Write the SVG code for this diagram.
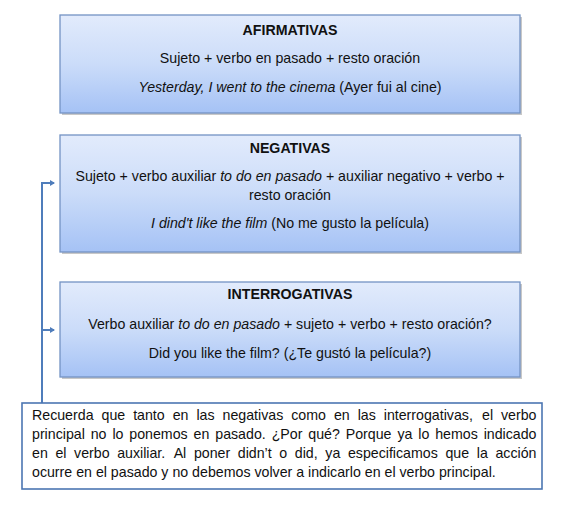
<svg xmlns="http://www.w3.org/2000/svg" width="561" height="508" viewBox="0 0 561 508">
<style>
text { font-family: "Liberation Sans", Arial, sans-serif; font-size: 14.2px; fill: #111; }
.c { text-anchor: middle; }
.t { font-weight: bold; }
.i { font-style: italic; }
.box { fill: url(#g); stroke: #7393c4; stroke-width: 1.3; }
.shadow { fill: #c8c8c8; }
.note { fill: #fff; stroke: #4c76b2; stroke-width: 1.6; }
.conn { fill: none; stroke: #4f7dbb; stroke-width: 2; }
</style>
<defs>
<linearGradient id="g" x1="0" y1="0" x2="0" y2="1">
<stop offset="0" stop-color="#e2ebfc"/>
<stop offset="0.5" stop-color="#cbdcf9"/>
<stop offset="1" stop-color="#a5c2f5"/>
</linearGradient>
<marker id="arr" markerWidth="6" markerHeight="6" refX="4" refY="3" orient="auto" markerUnits="userSpaceOnUse">
<path d="M0,0 L5,3 L0,6 Z" fill="#4f7dbb"/>
</marker>
</defs>
<g id="connectors">
<path class="conn" d="M42,403 V183 H54" marker-end="url(#arr)"/>
<path class="conn" d="M42,330 H54" marker-end="url(#arr)"/>
</g>
<g id="afirmativas">
<rect class="shadow" x="62" y="17" width="460" height="98"/>
<rect class="box" x="60" y="15" width="460" height="98"/>
<text class="c t" x="290" y="35">AFIRMATIVAS</text>
<text class="c" x="290" y="63">Sujeto + verbo en pasado + resto oración</text>
<text class="c" x="290" y="92"><tspan class="i">Yesterday, I went to the cinema</tspan> (Ayer fui al cine)</text>
</g>
<g id="negativas">
<rect class="shadow" x="62" y="137" width="460" height="117"/>
<rect class="box" x="60" y="135" width="460" height="117"/>
<text class="c t" x="290" y="153">NEGATIVAS</text>
<text class="c" x="290" y="181">Sujeto + verbo auxiliar <tspan class="i">to do en pasado</tspan> + auxiliar negativo + verbo +</text>
<text class="c" x="290" y="200">resto oración</text>
<text class="c" x="290" y="228"><tspan class="i">I dind't like the film</tspan> (No me gusto la película)</text>
</g>
<g id="interrogativas">
<rect class="shadow" x="62" y="284" width="460" height="95"/>
<rect class="box" x="60" y="282" width="460" height="95"/>
<text class="c t" x="290" y="299">INTERROGATIVAS</text>
<text class="c" x="290" y="329">Verbo auxiliar <tspan class="i">to do en pasado</tspan> + sujeto + verbo + resto oración?</text>
<text class="c" x="290" y="358">Did you like the film? (¿Te gustó la película?)</text>
</g>
<g id="nota">
<rect class="note" x="22" y="403" width="520" height="86"/>
<text y="420"><tspan x="32">Recuerda</tspan><tspan x="101.51">que</tspan><tspan x="133.15">tanto</tspan><tspan x="172.68">en</tspan><tspan x="196.42">las</tspan><tspan x="222.52">negativas</tspan><tspan x="291.25">como</tspan><tspan x="333.92">en</tspan><tspan x="357.66">las</tspan><tspan x="383.76">interrogativas,</tspan><tspan x="482.02">el</tspan><tspan x="501.02">verbo</tspan></text>
<text y="439"><tspan x="32">principal</tspan><tspan x="90.74">no</tspan><tspan x="112.40">lo</tspan><tspan x="129.32">ponemos</tspan><tspan x="193.59">en</tspan><tspan x="215.25">pasado.</tspan><tspan x="271.64">¿Por</tspan><tspan x="308.28">qué?</tspan><tspan x="345.73">Porque</tspan><tspan x="397.38">ya</tspan><tspan x="418.25">lo</tspan><tspan x="435.17">hemos</tspan><tspan x="483.65">indicado</tspan></text>
<text y="458"><tspan x="32">en</tspan><tspan x="55.39">el</tspan><tspan x="74.04">verbo</tspan><tspan x="117.15">auxiliar.</tspan><tspan x="173.67">Al</tspan><tspan x="193.89">poner</tspan><tspan x="237.80">didn’t</tspan><tspan x="279.34">o</tspan><tspan x="294.84">did,</tspan><tspan x="325.33">ya</tspan><tspan x="347.93">especificamos</tspan><tspan x="445.49">que</tspan><tspan x="476.78">la</tspan><tspan x="495.43">acción</tspan></text>
<text x="32" y="477">ocurre en el pasado y no debemos volver a indicarlo en el verbo principal.</text>
</g>
</svg>
